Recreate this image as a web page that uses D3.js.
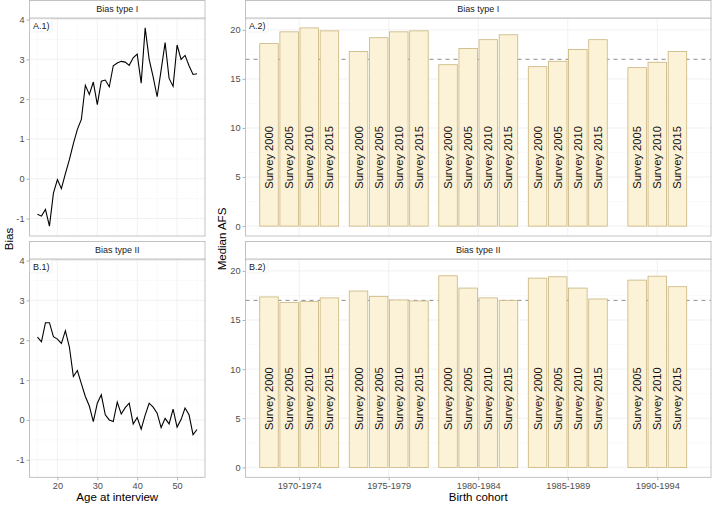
<!DOCTYPE html>
<html><head><meta charset="utf-8">
<script src="https://cdn.jsdelivr.net/npm/d3@7"></script>
<style>body{margin:0;background:#fff}svg{display:block;font-family:"Liberation Sans",Arial,sans-serif}</style>
</head><body><svg id="c" width="712" height="505"></svg>
<script>
// ---- data ----
const ages = [15,16,17,18,19,20,21,22,23,24,25,26,27,28,29,30,31,32,33,34,35,36,37,38,39,40,41,42,43,44,45,46,47,48,49,50,51,52,53,54,55];
const biasTypeI = [-0.89,-0.94,-0.77,-1.19,-0.36,-0.02,-0.25,0.13,0.48,0.88,1.24,1.49,2.35,2.12,2.43,1.86,2.45,2.48,2.31,2.84,2.91,2.95,2.93,2.85,3.04,3.13,2.40,3.79,3.00,2.56,2.06,2.73,3.42,2.52,2.32,3.36,3.00,3.10,2.84,2.62,2.64];
const biasTypeII = [2.08,1.96,2.44,2.44,2.09,2.03,1.92,2.24,1.83,1.09,1.24,0.91,0.59,0.35,-0.04,0.42,0.63,0.13,0.00,-0.04,0.45,0.15,0.31,0.42,-0.10,0.06,-0.23,0.12,0.42,0.32,0.17,-0.19,0.04,-0.10,0.27,-0.18,0.01,0.30,0.13,-0.37,-0.24];
const yTicksBias = [-1,0,1,2,3,4];
const xTicksAge = [20,30,40,50];

const cohorts = ["1970-1974","1975-1979","1980-1984","1985-1989","1990-1994"];
const surveys = ["Survey 2000","Survey 2005","Survey 2010","Survey 2015"];
// Median AFS, bias type I (per survey, per cohort; null = not present)
const typeI_2000 = [18.6, 17.8, 16.45, 16.25, null];
const typeI_2005 = [19.8, 19.2, 18.1, 16.8, 16.15];
const typeI_2010 = [20.2, 19.8, 19.0, 18.0, 16.7];
const typeI_2015 = [19.9, 19.9, 19.5, 19.0, 17.8];
// Median AFS, bias type II
const typeII_2000 = [17.35, 17.95, 19.5, 19.26, null];
const typeII_2005 = [16.77, 17.41, 18.25, 19.4, 19.06];
const typeII_2010 = [16.87, 17.04, 17.25, 18.25, 19.46];
const typeII_2015 = [17.25, 16.94, 17.0, 17.14, 18.39];
const refLine = 17;
const yTicksAFS = [0,5,10,15,20];
const panelTags = ["A.1)","B.1)","A.2)","B.2)"];
const stripTitles = ["Bias type I","Bias type II"];

// ---- layout ----
const svg = d3.select("#c");
const L = {x0:29.5, x1:205}, R = {x0:245.5, x1:711};
const rows = [{s0:0.5, p0:18, p1:236},{s0:241.5, p0:259, p1:477.3}];
const gridMajor = "#ebebeb", gridMinor = "#f4f4f4", border = "#b3b3b3", tickCol = "#4d4d4d";

function expand(ext, mult){const r=ext[1]-ext[0];return [ext[0]-r*mult, ext[1]+r*mult];}

// shared scales
const ageX = d3.scaleLinear().domain(expand(d3.extent(ages),0.05)).range([L.x0,L.x1]);
const allBias = biasTypeI.concat(biasTypeII);
const biasDom = expand(d3.extent(allBias),0.05);
const afsAll = [].concat(typeI_2000,typeI_2005,typeI_2010,typeI_2015,typeII_2000,typeII_2005,typeII_2010,typeII_2015).filter(v=>v!=null);
const afsDom = expand([0, d3.max(afsAll)],0.05);
const cohX = d3.scalePoint().domain(cohorts).range([R.x0,R.x1]).padding(0.6);

function strip(x0,x1,row,title){
  svg.append("rect").attr("x",x0).attr("y",row.s0).attr("width",x1-x0).attr("height",row.p0-row.s0)
    .attr("fill","#fff").attr("stroke",border).attr("stroke-width",0.8);
  svg.append("text").attr("x",(x0+x1)/2).attr("y",(row.s0+row.p0)/2+3.2).attr("text-anchor","middle")
    .attr("font-size",9).attr("fill","#1a1a1a").text(title);
}
function tag(x0,row,t){
  const g=svg.append("g");
  g.append("rect").attr("x",x0+0.5).attr("y",row.p0+1).attr("width",22).attr("height",13).attr("rx",1.5)
    .attr("fill","#fff").attr("stroke","#e6e6e6").attr("stroke-width",0.5);
  g.append("text").attr("x",x0+3.5).attr("y",row.p0+11).attr("font-size",9).attr("fill","#1a1a1a").text(t);
}
function yAxis(x0,y,ticks){
  const g = svg.append("g").attr("transform",`translate(${x0},0)`)
    .call(d3.axisLeft(y).tickValues(ticks).tickSize(3).tickPadding(2).tickFormat(d=>d));
  g.select(".domain").remove();
  g.selectAll(".tick line").attr("stroke",border);
  g.selectAll(".tick text").attr("font-size",9.2).attr("fill",tickCol).attr("font-family","Liberation Sans, Arial, sans-serif");
}

// ---- left panels (lines) ----
[biasTypeI,biasTypeII].forEach((series,i)=>{
  const row = rows[i];
  const y = d3.scaleLinear().domain(biasDom).range([row.p1,row.p0]);
  const g = svg.append("g");
  // minor grid
  const minorY = yTicksBias.slice(0,-1).map(v=>v+0.5);
  g.selectAll(".my").data(minorY).join("line").attr("x1",L.x0).attr("x2",L.x1).attr("y1",d=>y(d)).attr("y2",d=>y(d)).attr("stroke",gridMinor).attr("stroke-width",0.5);
  const minorX = [15,25,35,45,55];
  g.selectAll(".mx").data(minorX).join("line").attr("y1",row.p0).attr("y2",row.p1).attr("x1",d=>ageX(d)).attr("x2",d=>ageX(d)).attr("stroke",gridMinor).attr("stroke-width",0.5);
  g.selectAll(".gy").data(yTicksBias).join("line").attr("x1",L.x0).attr("x2",L.x1).attr("y1",d=>y(d)).attr("y2",d=>y(d)).attr("stroke",gridMajor).attr("stroke-width",0.7);
  g.selectAll(".gx").data(xTicksAge).join("line").attr("y1",row.p0).attr("y2",row.p1).attr("x1",d=>ageX(d)).attr("x2",d=>ageX(d)).attr("stroke",gridMajor).attr("stroke-width",0.7);
  const line = d3.line().x((d,j)=>ageX(ages[j])).y(d=>y(d));
  g.append("path").datum(series).attr("d",line).attr("fill","none").attr("stroke","#000").attr("stroke-width",1.1);
  g.append("rect").attr("x",L.x0).attr("y",row.p0).attr("width",L.x1-L.x0).attr("height",row.p1-row.p0).attr("fill","none").attr("stroke",border).attr("stroke-width",0.8);
  strip(L.x0,L.x1,row,stripTitles[i]);
  tag(L.x0,row,panelTags[i]);
  yAxis(L.x0,y,yTicksBias);
  if(i===1){
    const ax = svg.append("g").attr("transform",`translate(0,${row.p1})`)
      .call(d3.axisBottom(ageX).tickValues(xTicksAge).tickSize(3).tickPadding(2));
    ax.select(".domain").remove();
    ax.selectAll(".tick line").attr("stroke",border);
    ax.selectAll(".tick text").attr("font-size",9.2).attr("fill",tickCol).attr("font-family","Liberation Sans, Arial, sans-serif");
  }
});

// ---- right panels (bars) ----
const typeSets = [[typeI_2000,typeI_2005,typeI_2010,typeI_2015],[typeII_2000,typeII_2005,typeII_2010,typeII_2015]];
const step = cohX.step();
const slot = step*0.9/surveys.length;
const barW = slot*0.92;
typeSets.forEach((sets,i)=>{
  const row = rows[i];
  const y = d3.scaleLinear().domain(afsDom).range([row.p1,row.p0]);
  const g = svg.append("g");
  const minorY = [2.5,7.5,12.5,17.5];
  g.selectAll(".my").data(minorY).join("line").attr("x1",R.x0).attr("x2",R.x1).attr("y1",d=>y(d)).attr("y2",d=>y(d)).attr("stroke",gridMinor).attr("stroke-width",0.5);
  g.selectAll(".gy").data(yTicksAFS).join("line").attr("x1",R.x0).attr("x2",R.x1).attr("y1",d=>y(d)).attr("y2",d=>y(d)).attr("stroke",gridMajor).attr("stroke-width",0.7);
  g.selectAll(".gx").data(cohorts).join("line").attr("y1",row.p0).attr("y2",row.p1).attr("x1",d=>cohX(d)).attr("x2",d=>cohX(d)).attr("stroke",gridMajor).attr("stroke-width",0.7);
  // reference dashed line
  g.append("line").attr("x1",R.x0).attr("x2",R.x1).attr("y1",y(refLine)).attr("y2",y(refLine))
    .attr("stroke","#7f7f7f").attr("stroke-width",0.9).attr("stroke-dasharray","4,4");
  // bars
  const bars = [];
  cohorts.forEach((c,ci)=>{
    const present = surveys.map((s,si)=>({s,v:sets[si][ci]})).filter(d=>d.v!=null);
    const n = present.length;
    present.forEach((d,k)=>{
      bars.push({c, s:d.s, v:d.v, cx: cohX(c) + (k-(n-1)/2)*slot});
    });
  });
  g.selectAll(".bar").data(bars).join("rect")
    .attr("x",d=>d.cx-barW/2).attr("width",barW)
    .attr("y",d=>y(d.v)).attr("height",d=>y(0)-y(d.v))
    .attr("fill","#fcf2d7").attr("stroke","#c8b47c").attr("stroke-width",0.8);
  g.selectAll(".lab").data(bars).join("text")
    .attr("transform",d=>`translate(${d.cx+4},${y(7)}) rotate(-90)`)
    .attr("text-anchor","middle").attr("font-size",11.2).attr("fill","#111").text(d=>d.s);
  g.append("rect").attr("x",R.x0).attr("y",row.p0).attr("width",R.x1-R.x0).attr("height",row.p1-row.p0).attr("fill","none").attr("stroke",border).attr("stroke-width",0.8);
  strip(R.x0,R.x1,row,stripTitles[i]);
  tag(R.x0,row,panelTags[2+i]);
  yAxis(R.x0,y,yTicksAFS);
  if(i===1){
    const ax = svg.append("g").attr("transform",`translate(0,${row.p1})`)
      .call(d3.axisBottom(cohX).tickSize(3).tickPadding(2));
    ax.select(".domain").remove();
    ax.selectAll(".tick line").attr("stroke",border);
    ax.selectAll(".tick text").attr("font-size",9.2).attr("fill",tickCol).attr("font-family","Liberation Sans, Arial, sans-serif");
  }
});

// ---- axis titles ----
svg.append("text").attr("x",(L.x0+L.x1)/2).attr("y",501).attr("text-anchor","middle").attr("font-size",11.5).attr("fill","#000").text("Age at interview");
svg.append("text").attr("x",(R.x0+R.x1)/2).attr("y",501).attr("text-anchor","middle").attr("font-size",11.5).attr("fill","#000").text("Birth cohort");
svg.append("text").attr("transform",`translate(13,239) rotate(-90)`).attr("text-anchor","middle").attr("font-size",11.5).attr("fill","#000").text("Bias");
svg.append("text").attr("transform",`translate(226,239) rotate(-90)`).attr("text-anchor","middle").attr("font-size",11.5).attr("fill","#000").text("Median AFS");
</script></body></html>
